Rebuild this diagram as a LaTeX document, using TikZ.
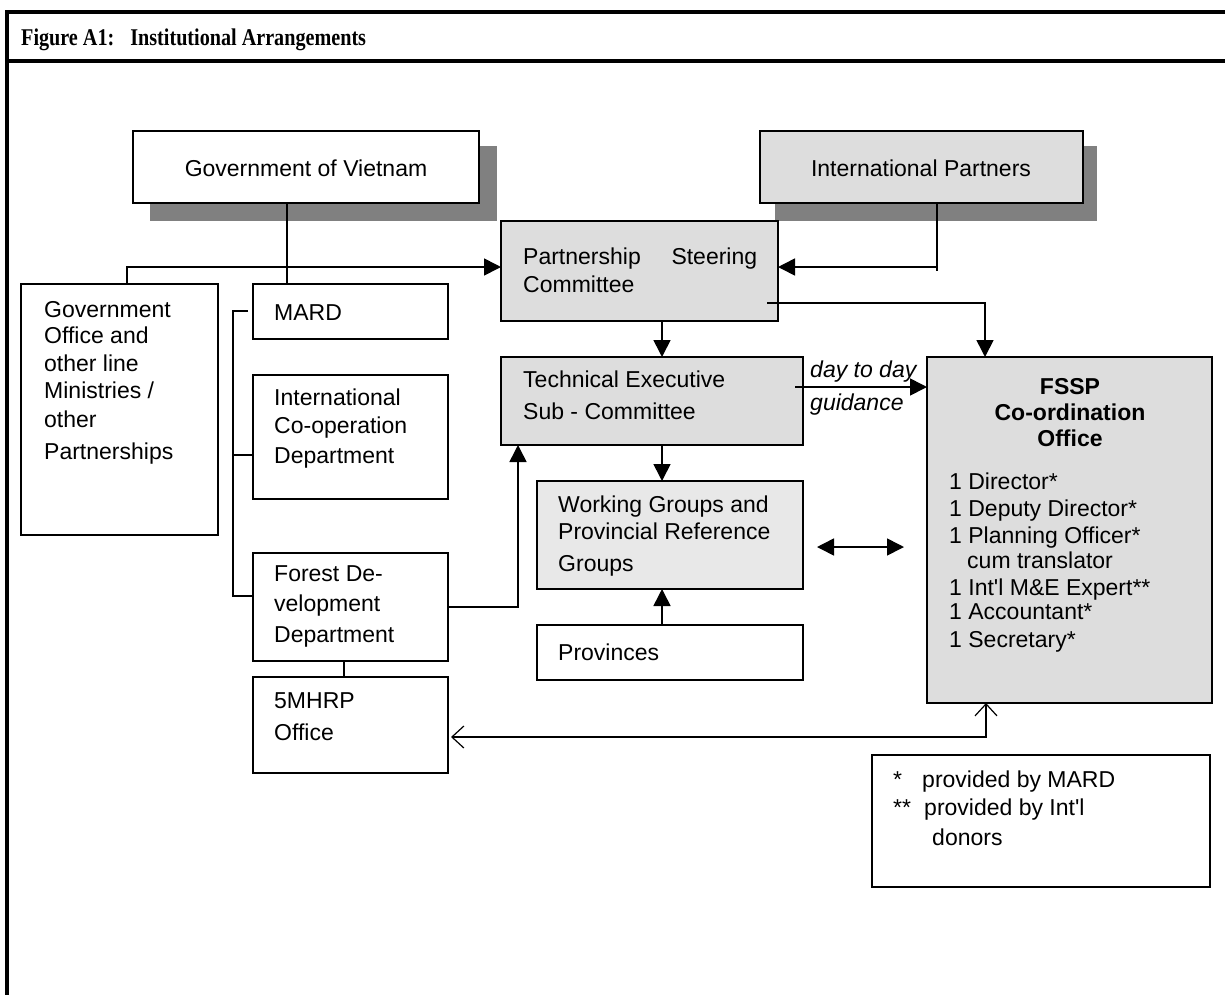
\documentclass[tikz,border=0pt]{standalone}
\usepackage{fontspec}
\setmainfont{Liberation Serif}
\newfontfamily\arial{Liberation Sans}
\newfontfamily\titlefont[FakeStretch=0.84]{Liberation Serif}
\usetikzlibrary{arrows.meta}
\definecolor{shadowgray}{HTML}{808080}
\definecolor{boxgray}{HTML}{DDDDDD}
\definecolor{wggray}{HTML}{E8E8E8}
\begin{document}
\begin{tikzpicture}[x=1pt,y=-1pt,
  box/.style={draw=black, line width=1.6pt, anchor=north west, inner sep=0pt, outer sep=0pt},
  txt/.style={anchor=base west, inner sep=0pt, font=\arial\fontsize{23}{28}\selectfont},
  ctxt/.style={anchor=base, inner sep=0pt, font=\arial\fontsize{23}{28}\selectfont},
  btxt/.style={anchor=base, inner sep=0pt, font=\arial\bfseries\fontsize{23}{28}\selectfont},
  itxt/.style={anchor=base west, inner sep=0pt, font=\arial\itshape\fontsize{23}{28}\selectfont},
  conn/.style={line width=1.6pt},
  tri/.style={conn, -{Triangle[length=17pt,width=17pt]}},
  tritwo/.style={conn, {Triangle[length=17pt,width=17pt]}-{Triangle[length=17pt,width=17pt]}},
  openboth/.style={line width=1.2pt, {Straight Barb[length=12pt,width=22pt,line width=1.2pt]}-{Straight Barb[length=12pt,width=22pt,line width=1.2pt]}},
  frame/.style={line width=3.5pt}
]
\useasboundingbox (0,0) rectangle (1225,994);
\fill[white] (0,0) rectangle (1225,994);

% frame and title
\draw[frame] (1226,12) -- (7,12) -- (7,995);
\draw[frame] (7,61) -- (1226,61);
\node[anchor=base west, inner sep=0pt, font=\titlefont\bfseries\fontsize{24}{28}\selectfont] (title) at (21,45) {Figure A1:\hspace{16pt}Institutional Arrangements};

% shadows
\fill[shadowgray] (150,146) rectangle (497,221);
\fill[shadowgray] (775,146) rectangle (1097,221);

% boxes
\node[box, fill=white, minimum width=346pt, minimum height=72pt] (gov) at (133,131) {};
\node[box, fill=boxgray, minimum width=323pt, minimum height=72pt] (ip) at (760,131) {};
\node[box, fill=boxgray, minimum width=277pt, minimum height=100pt] (psc) at (501,221) {};
\node[box, fill=white, minimum width=197pt, minimum height=251pt] (goff) at (21,284) {};
\node[box, fill=white, minimum width=195pt, minimum height=55pt] (mard) at (253,284) {};
\node[box, fill=white, minimum width=195pt, minimum height=124pt] (icd) at (253,375) {};
\node[box, fill=white, minimum width=195pt, minimum height=108pt] (fdd) at (253,553) {};
\node[box, fill=white, minimum width=195pt, minimum height=96pt] (mh) at (253,677) {};
\node[box, fill=boxgray, minimum width=302pt, minimum height=88pt] (tesc) at (501,357) {};
\node[box, fill=wggray, minimum width=266pt, minimum height=108pt] (wg) at (537,481) {};
\node[box, fill=white, minimum width=266pt, minimum height=55pt] (prov) at (537,625) {};
\node[box, fill=boxgray, minimum width=285pt, minimum height=346pt] (fssp) at (927,357) {};
\node[box, fill=white, minimum width=338pt, minimum height=132pt] (note) at (872,755) {};

% texts
\node[ctxt] (tgov) at (306,176) {Government of Vietnam};
\node[ctxt] (tip) at (921,176) {International Partners};
\node[txt] (tpsc1) at (523,264) {\makebox[234pt][s]{Partnership\hfill Steering}};
\node[txt] (tpsc2) at (523,292) {Committee};
\node[txt] (tgo1) at (44,317) {Government};
\node[txt] (tgo2) at (44,343) {Office and};
\node[txt] (tgo3) at (44,371) {other line};
\node[txt] (tgo4) at (44,398) {Ministries /};
\node[txt] (tgo5) at (44,427) {other};
\node[txt] (tgo6) at (44,459) {Partnerships};
\node[txt] (tmard) at (274,320) {MARD};
\node[txt] (ticd1) at (274,405) {International};
\node[txt] (ticd2) at (274,433) {Co-operation};
\node[txt] (ticd3) at (274,463) {Department};
\node[txt] (tfd1) at (274,581) {Forest De-};
\node[txt] (tfd2) at (274,611) {velopment};
\node[txt] (tfd3) at (274,642) {Department};
\node[txt] (tmh1) at (274,708) {5MHRP};
\node[txt] (tmh2) at (274,740) {Office};
\node[txt] (ttesc1) at (523,387) {Technical Executive};
\node[txt] (ttesc2) at (523,419) {Sub - Committee};
\node[txt] (twg1) at (558,512) {Working Groups and};
\node[txt] (twg2) at (558,539) {Provincial Reference};
\node[txt] (twg3) at (558,571) {Groups};
\node[txt] (tprov) at (558,660) {Provinces};
\node[itxt] (tdd1) at (810,377) {day to day};
\node[itxt] (tdd2) at (810,410) {guidance};
\node[btxt] (tf1) at (1070,394) {FSSP};
\node[btxt] (tf2) at (1070,420) {Co-ordination};
\node[btxt] (tf3) at (1070,446) {Office};
\node[txt] (tl1) at (949,489) {1 Director*};
\node[txt] (tl2) at (949,516) {1 Deputy Director*};
\node[txt] (tl3) at (949,543) {1 Planning Officer*};
\node[txt] (tl4) at (967,568) {cum translator};
\node[txt] (tl5) at (949,595) {1 Int'l M\&E Expert**};
\node[txt] (tl6) at (949,619) {1 Accountant*};
\node[txt] (tl7) at (949,647) {1 Secretary*};
\node[txt] (tn1) at (893,787) {*};
\node[txt] (tn2) at (922,787) {provided by MARD};
\node[txt] (tn3) at (893,815) {**};
\node[txt] (tn4) at (924,815) {provided by Int'l};
\node[txt] (tn5) at (932,845) {donors};

% junction coordinates
\coordinate (jg) at (287,267);
\coordinate (jl) at (127,267);
\coordinate (jip) at (937,267);
\coordinate (jipend) at (937,271);
\coordinate (pf1) at (767,303);
\coordinate (pf2) at (985,303);
\coordinate (colA) at (662,0);
\coordinate (dd) at (795,387);
\coordinate (da1) at (817,547);
\coordinate (da2) at (904,547);
\coordinate (ft) at (518,607);
\coordinate (brt) at (248,311);
\coordinate (br1) at (233,311);
\coordinate (br2) at (233,596);
\coordinate (bri) at (233,455);
\coordinate (colM) at (344,0);
\coordinate (fm) at (986,737);
\coordinate (mhtip) at (451,737);

% connectors
\draw[conn] (gov.south -| jg) -- (mard.north -| jg);
\draw[conn] (goff.north -| jl) -- (jl) -- (jg);
\draw[tri] (jg) -- (psc.west |- jg);
\draw[conn] (ip.south -| jip) -- (jipend);
\draw[tri] (jip) -- (psc.east |- jip);
\draw[tri] (pf1) -- (pf2) -- (fssp.north -| pf2);
\draw[tri] (psc.south -| colA) -- (tesc.north -| colA);
\draw[tri] (tesc.south -| colA) -- (wg.north -| colA);
\draw[tri] (prov.north -| colA) -- (wg.south -| colA);
\draw[tri] (dd) -- (fssp.west |- dd);
\draw[tritwo] (da1) -- (da2);
\draw[tri] (fdd.east |- ft) -- (ft) -- (tesc.south -| ft);
\draw[conn] (brt) -- (br1) -- (br2) -- (fdd.west |- br2);
\draw[conn] (bri) -- (icd.west |- bri);
\draw[conn] (fdd.south -| colM) -- (mh.north -| colM);
\draw[openboth] (fssp.south -| fm) -- (fm) -- (mhtip);
\end{tikzpicture}
\end{document}
